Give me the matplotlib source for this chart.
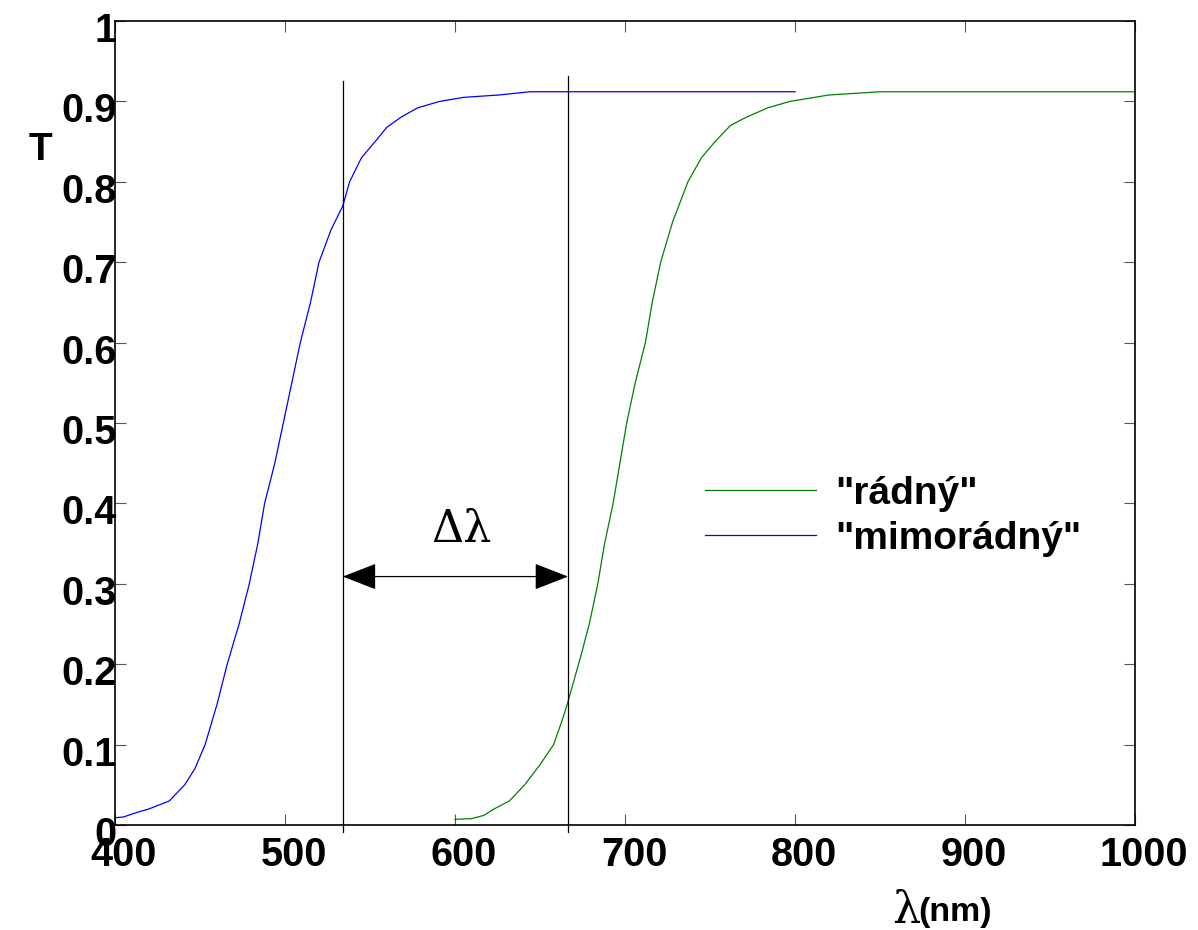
import matplotlib
matplotlib.use("Agg")
import matplotlib.pyplot as plt
import matplotlib.transforms as mtransforms

# blue curve ("mimorádný")
lam_b = [400, 405, 412, 420, 432, 441, 447, 453, 460, 466, 473, 479, 484, 488,
         494, 499, 504, 509, 515, 520, 527, 534, 538, 545, 553, 560, 568, 578,
         591, 605, 626, 644, 700, 750, 800]
T_b = [0.009, 0.010, 0.015, 0.020, 0.030, 0.050, 0.070, 0.100, 0.150, 0.200,
       0.250, 0.300, 0.350, 0.400, 0.450, 0.500, 0.550, 0.600, 0.650, 0.700,
       0.740, 0.770, 0.800, 0.830, 0.850, 0.868, 0.880, 0.892, 0.900, 0.905,
       0.908, 0.912, 0.912, 0.912, 0.912]

# green curve ("rádný")
lam_g = [600, 610, 617, 623, 632, 641, 650, 658, 663, 666, 670, 674, 679, 684,
         688, 693, 697, 701, 706, 712, 716, 721, 728, 737, 745, 753, 762, 771,
         784, 797, 820, 850, 900, 1000]
T_g = [0.007, 0.008, 0.012, 0.020, 0.030, 0.050, 0.075, 0.100, 0.130, 0.150,
       0.180, 0.210, 0.250, 0.300, 0.350, 0.400, 0.450, 0.500, 0.550, 0.600,
       0.650, 0.700, 0.750, 0.800, 0.830, 0.850, 0.870, 0.880, 0.892, 0.900,
       0.908, 0.912, 0.912, 0.912]

# marker lines and arrow
vlines_x = [534, 666.5]
vlines_top = [0.925, 0.932]
arrow_y = 0.309

xticks = [400, 500, 600, 700, 800, 900, 1000]
yticks = [0, 0.1, 0.2, 0.3, 0.4, 0.5, 0.6, 0.7, 0.8, 0.9, 1]
ytick_labels = ["0", "0.1", "0.2", "0.3", "0.4", "0.5", "0.6", "0.7", "0.8", "0.9", "1"]

plt.rcParams['font.family'] = ['Liberation Sans', 'DejaVu Sans']

fig = plt.figure(figsize=(11.98, 9.30), dpi=100)
ax = fig.add_axes([115/1198, 1 - 825/930, 1020/1198, 804/930])

ax.plot(lam_g, T_g, color="#008000", lw=0.9, label='"rádný"')
ax.plot(lam_b, T_b, color="#0000ff", lw=0.9, label='"mimorádný"')

for xv, top in zip(vlines_x, vlines_top):
    ax.plot([xv, xv], [-0.009, top], color="black", lw=0.9, clip_on=False)

ax.annotate("", xy=(vlines_x[0], arrow_y), xytext=(vlines_x[1], arrow_y),
            arrowprops=dict(arrowstyle="<|-|>,head_length=0.72,head_width=0.28",
                            color="black", lw=0.9,
                            mutation_scale=30, shrinkA=0, shrinkB=0))
ax.text(604, 0.368, "Δλ", fontsize=32, family="DejaVu Serif",
        ha="center", va="center")

ax.set_xlim(400, 1000)
ax.set_ylim(0, 1)
ax.set_xticks(xticks)
ax.set_yticks(yticks)
ax.set_yticklabels(ytick_labels)
ax.tick_params(direction="in", length=8, width=0.8, color="#555555",
               top=True, right=True, labelsize=28.5)
ax.tick_params(axis="x", pad=8)
ax.tick_params(axis="y", pad=0)
for lab in ax.get_xticklabels() + ax.get_yticklabels():
    lab.set_fontweight("bold")
for sp in ax.spines.values():
    sp.set_linewidth(1.2)

dx = mtransforms.ScaledTranslation(9/100, 0, fig.dpi_scale_trans)
dy = mtransforms.ScaledTranslation(2/100, -6/100, fig.dpi_scale_trans)
for lab in ax.get_xticklabels():
    lab.set_transform(lab.get_transform() + dx)
for lab in ax.get_yticklabels():
    lab.set_transform(lab.get_transform() + dy)

fig.text(40/1198, 1 - 150/930, "T", fontsize=28, fontweight="bold",
         ha="center", va="center")
fig.text(906/1198, 1 - 910/930, "λ", fontsize=32, family="DejaVu Serif",
         ha="center", va="center")
fig.text(918/1198, 1 - 912/930, "(nm)", fontsize=24.5, fontweight="bold",
         ha="left", va="center")

ax.legend(loc="upper left", bbox_to_anchor=(590/1020, (825 - 476)/804),
          frameon=False, handlelength=2.85, handletextpad=0.5,
          labelspacing=0.23, borderpad=0, borderaxespad=0,
          prop={"weight": "bold", "size": 28})

fig.savefig("out.png", dpi=100)
